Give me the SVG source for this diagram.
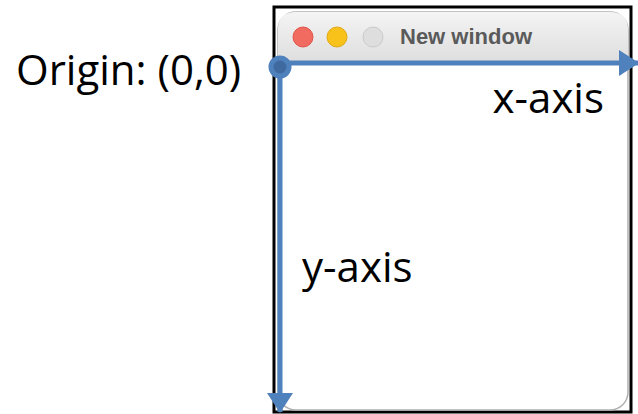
<svg xmlns="http://www.w3.org/2000/svg" width="638" height="414" viewBox="0 0 638 414">
<defs>
<linearGradient id="tb" x1="0" y1="0" x2="0" y2="1"><stop offset="0" stop-color="#f4f4f4"/><stop offset="1" stop-color="#dedede"/></linearGradient>
<marker id="ah" viewBox="0 0 20 26" refX="19" refY="13" markerWidth="20" markerHeight="26" markerUnits="userSpaceOnUse" orient="auto"><path d="M0,0 L20,13 L0,26 Z" fill="#4f81bd"/></marker>
<style>
.lbl{font-family:"Open Sans","Liberation Sans",sans-serif;font-size:42px;fill:#000}
.axis{stroke:#4f81bd;stroke-width:5;fill:none}
</style>
</defs>
<g id="window">
<rect x="274" y="7" width="357" height="405" fill="#fff" stroke="#000" stroke-width="3"/>
<rect x="278" y="12" width="350" height="398" rx="18" fill="#fff" stroke="#b0b0b0" stroke-width="1.5"/>
<path d="M278,62 L278,30 Q278,12 296,12 L610,12 Q628,12 628,30 L628,62 Z" fill="url(#tb)"/>
<circle cx="303" cy="37" r="10" fill="#f26b61" stroke="#e0534a" stroke-width="1"/>
<circle cx="337" cy="37" r="10" fill="#f8c21a" stroke="#e0a915" stroke-width="1"/>
<circle cx="373" cy="37" r="10" fill="#dedede" stroke="#cacaca" stroke-width="1"/>
<text x="400" y="44" font-family="'Liberation Sans',Arial,sans-serif" font-weight="bold" font-size="22" fill="#5a5a5a">New window</text>
</g>
<g id="connectors">
<line class="axis" x1="280" y1="63" x2="638" y2="63" marker-end="url(#ah)"/>
<line class="axis" x1="280" y1="67" x2="280" y2="412" marker-end="url(#ah)"/>
</g>
<g id="origin">
<circle cx="280" cy="67" r="9" fill="#3f6aa0" stroke="#4f81bd" stroke-width="5"/>
<text class="lbl" x="16" y="85">Origin: (0,0)</text>
</g>
<g id="xaxis"><text class="lbl" x="604" y="113" text-anchor="end">x-axis</text></g>
<g id="yaxis"><text class="lbl" x="302" y="282">y-axis</text></g>
</svg>
